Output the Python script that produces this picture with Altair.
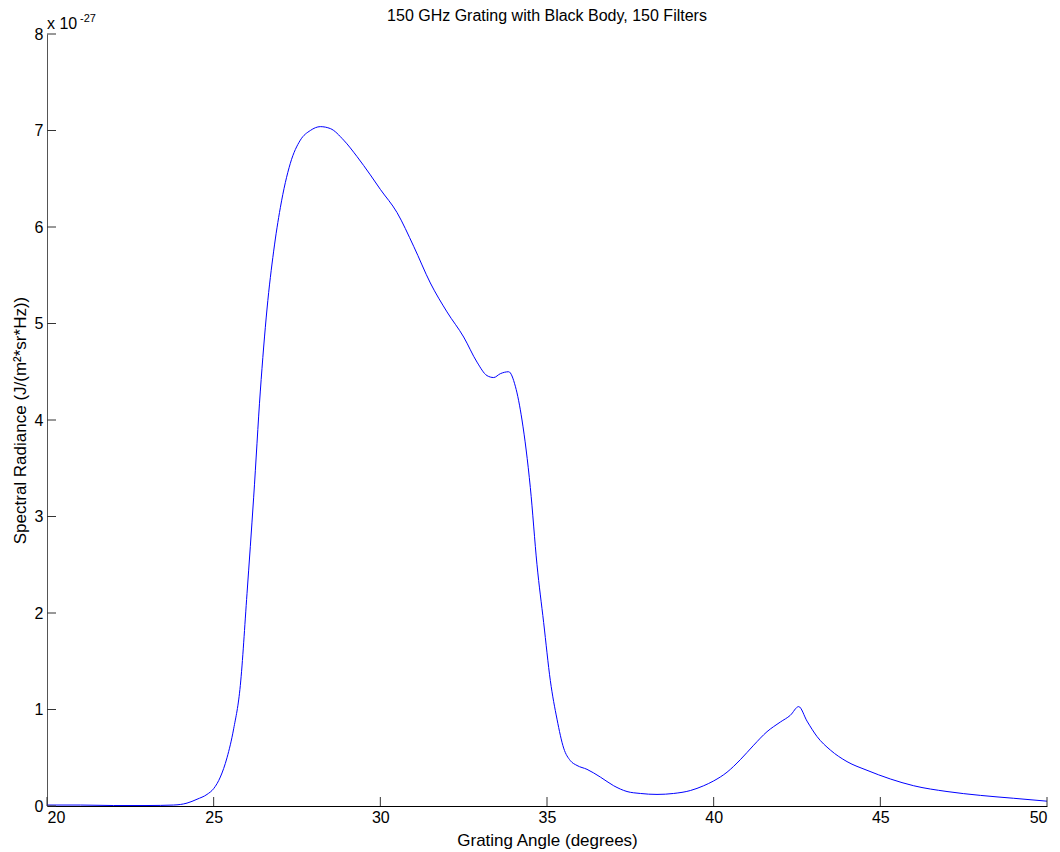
import altair as alt
import pandas as pd

angle = [20, 21, 22, 23, 23.8, 24.2, 24.5, 24.8, 25.0, 25.2, 25.4, 25.6, 25.8, 26.0,
         26.2, 26.4, 26.6, 26.8, 27.0, 27.3, 27.6, 27.9, 28.2, 28.5, 28.9, 29.3, 29.7,
         30.0, 30.5, 31.0, 31.5, 32.0, 32.5, 32.9, 33.2, 33.4, 33.6, 33.85, 34.05, 34.25,
         34.5, 34.7, 34.9, 35.1, 35.3, 35.5, 35.7, 35.9, 36.2, 36.6, 37.0, 37.4, 37.8,
         38.3, 38.8, 39.3, 39.7, 40.0, 40.4, 40.8, 41.2, 41.6, 42.0, 42.3, 42.55, 42.8,
         43.1, 43.5, 44.0, 44.6, 45.3, 46.0, 47.0, 48.0, 49.0, 50.0]
radiance = [0.01, 0.01, 0.005, 0.005, 0.01, 0.03, 0.07, 0.12, 0.18, 0.3, 0.5, 0.8, 1.25, 2.2,
            3.2, 4.3, 5.15, 5.75, 6.2, 6.66, 6.9, 7.0, 7.04, 7.02, 6.9, 6.73, 6.54,
            6.39, 6.15, 5.8, 5.42, 5.12, 4.86, 4.6, 4.46, 4.44, 4.48, 4.5, 4.35, 4.0,
            3.3, 2.5, 1.9, 1.3, 0.9, 0.6, 0.47, 0.42, 0.38, 0.3, 0.21, 0.15, 0.13,
            0.12, 0.13, 0.16, 0.21, 0.26, 0.35, 0.48, 0.63, 0.77, 0.87, 0.94, 1.03, 0.88,
            0.72, 0.58, 0.46, 0.37, 0.28, 0.21, 0.15, 0.11, 0.08, 0.05]

x_ticks = [20, 25, 30, 35, 40, 45, 50]
y_ticks = [0, 1, 2, 3, 4, 5, 6, 7, 8]

W, H = 1000, 772
FONT = "Liberation Sans"
FS = 16
TFS = 17

df = pd.DataFrame({"angle": angle, "radiance": radiance})
xt = pd.DataFrame({"x": x_ticks})
yt = pd.DataFrame({"y": y_ticks})

xscale = alt.Scale(domain=[20, 50], nice=False, zero=False)
yscale = alt.Scale(domain=[0, 8], nice=False)

line = alt.Chart(df).mark_line(color="#0000ff", strokeWidth=1, interpolate="monotone").encode(
    x=alt.X("angle:Q", scale=xscale,
            axis=alt.Axis(values=x_ticks, format="d", title="Grating Angle (degrees)", tickSize=0,
                          labelPadding=3, titlePadding=7, grid=False, domainColor="#000000",
                          labelFontSize=FS, titleFontSize=TFS, labelFont=FONT, titleFont=FONT,
                          labelColor="#000000", titleColor="#000000", titleFontWeight="normal")),
    y=alt.Y("radiance:Q", scale=yscale,
            axis=alt.Axis(values=y_ticks, format="d", title="Spectral Radiance (J/(m²*sr*Hz))", tickSize=0,
                          labelPadding=4, titlePadding=5, grid=False, domainColor="#555555",
                          labelFontSize=FS, titleFontSize=TFS, labelFont=FONT, titleFont=FONT,
                          labelColor="#000000", titleColor="#000000", titleFontWeight="normal")),
)

xtick_marks = alt.Chart(xt).mark_rule(color="#333333", strokeWidth=1).encode(
    x=alt.X("x:Q", scale=xscale), y=alt.value(H), y2=alt.value(H - 9))
ytick_marks = alt.Chart(yt).mark_rule(color="#333333", strokeWidth=1).encode(
    y=alt.Y("y:Q", scale=yscale), x=alt.value(0), x2=alt.value(9))

title = alt.Chart(pd.DataFrame({"t": ["150 GHz Grating with Black Body, 150 Filters"]})).mark_text(
    font=FONT, fontSize=FS, color="#000000", align="center", baseline="alphabetic").encode(
    text="t:N", x=alt.value(W / 2), y=alt.value(-13))

exp_base = alt.Chart(pd.DataFrame({"t": ["x 10"]})).mark_text(
    font=FONT, fontSize=FS, color="#000000", align="left", baseline="alphabetic").encode(
    text="t:N", x=alt.value(0), y=alt.value(-5))
exp_sup = alt.Chart(pd.DataFrame({"t": ["-27"]})).mark_text(
    font=FONT, fontSize=11, color="#000000", align="left", baseline="alphabetic").encode(
    text="t:N", x=alt.value(33), y=alt.value(-12))

chart = alt.layer(line, xtick_marks, ytick_marks, title, exp_base, exp_sup).properties(
    width=W, height=H,
    autosize=alt.AutoSizeParams(type="none"),
    padding={"left": 47, "top": 34, "right": 13, "bottom": 46},
    background="#ffffff",
).configure_view(stroke=None)

chart.save("out.html", embed_options={"renderer": "svg", "actions": False})
